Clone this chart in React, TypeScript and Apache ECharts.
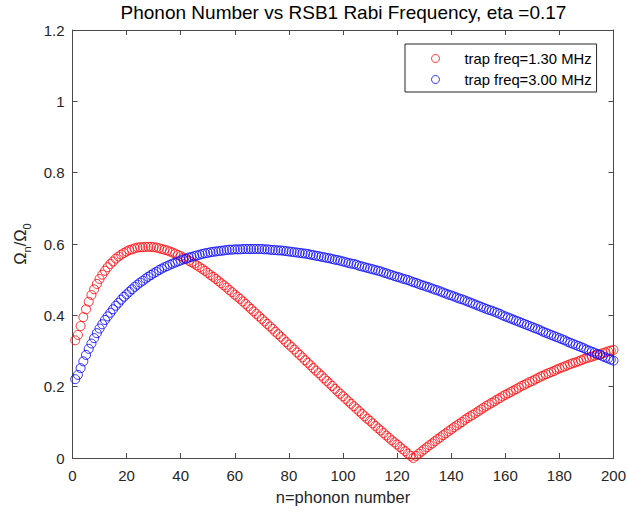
import React, { useEffect, useRef } from "react";
import * as echarts from "echarts";

const titleText = "Phonon Number vs RSB1 Rabi Frequency, eta =0.17";
const xAxisTitle = "n=phonon number";
const seriesNames = ["trap freq=1.30 MHz", "trap freq=3.00 MHz"];
const seriesColors = ["#ff0000", "#0000ff"];

const xMin = 0;
const xMax = 200;
const xStep = 20;
const yMin = 0;
const yMax = 1.2;
const yStep = 0.2;

const phononNumbers = [
  1, 2, 3, 4, 5, 6, 7, 8, 9, 10, 11, 12, 13, 14, 15, 16, 17, 18, 19, 20,
  21, 22, 23, 24, 25, 26, 27, 28, 29, 30, 31, 32, 33, 34, 35, 36, 37, 38, 39, 40,
  41, 42, 43, 44, 45, 46, 47, 48, 49, 50, 51, 52, 53, 54, 55, 56, 57, 58, 59, 60,
  61, 62, 63, 64, 65, 66, 67, 68, 69, 70, 71, 72, 73, 74, 75, 76, 77, 78, 79, 80,
  81, 82, 83, 84, 85, 86, 87, 88, 89, 90, 91, 92, 93, 94, 95, 96, 97, 98, 99, 100,
  101, 102, 103, 104, 105, 106, 107, 108, 109, 110, 111, 112, 113, 114, 115, 116, 117, 118, 119, 120,
  121, 122, 123, 124, 125, 126, 127, 128, 129, 130, 131, 132, 133, 134, 135, 136, 137, 138, 139, 140,
  141, 142, 143, 144, 145, 146, 147, 148, 149, 150, 151, 152, 153, 154, 155, 156, 157, 158, 159, 160,
  161, 162, 163, 164, 165, 166, 167, 168, 169, 170, 171, 172, 173, 174, 175, 176, 177, 178, 179, 180,
  181, 182, 183, 184, 185, 186, 187, 188, 189, 190, 191, 192, 193, 194, 195, 196, 197, 198, 199, 200,
];

// trap freq = 1.30 MHz
const redValues = [
  0.330, 0.345, 0.370, 0.395, 0.417, 0.438, 0.457, 0.473, 0.488, 0.502,
  0.514, 0.525, 0.535, 0.544, 0.551, 0.559, 0.565, 0.570, 0.575, 0.579,
  0.583, 0.585, 0.588, 0.590, 0.591, 0.591, 0.592, 0.592, 0.592, 0.591,
  0.590, 0.588, 0.586, 0.584, 0.582, 0.579, 0.576, 0.573, 0.569, 0.566,
  0.562, 0.558, 0.553, 0.549, 0.545, 0.540, 0.535, 0.530, 0.525, 0.519,
  0.513, 0.508, 0.502, 0.496, 0.490, 0.484, 0.478, 0.471, 0.465, 0.458,
  0.452, 0.446, 0.439, 0.432, 0.425, 0.418, 0.411, 0.404, 0.397, 0.390,
  0.383, 0.376, 0.369, 0.362, 0.354, 0.347, 0.340, 0.333, 0.325, 0.318,
  0.311, 0.304, 0.296, 0.289, 0.282, 0.274, 0.267, 0.260, 0.252, 0.245,
  0.238, 0.231, 0.223, 0.216, 0.209, 0.202, 0.194, 0.187, 0.180, 0.173,
  0.166, 0.159, 0.152, 0.145, 0.138, 0.131, 0.124, 0.117, 0.110, 0.104,
  0.097, 0.090, 0.083, 0.077, 0.070, 0.063, 0.057, 0.050, 0.044, 0.038,
  0.031, 0.025, 0.019, 0.012, 0.006, 0.000, 0.006, 0.012, 0.018, 0.024,
  0.030, 0.036, 0.041, 0.047, 0.053, 0.058, 0.064, 0.069, 0.075, 0.080,
  0.086, 0.091, 0.096, 0.101, 0.107, 0.112, 0.117, 0.121, 0.126, 0.131,
  0.136, 0.141, 0.146, 0.150, 0.155, 0.159, 0.164, 0.168, 0.173, 0.177,
  0.181, 0.185, 0.189, 0.193, 0.197, 0.202, 0.205, 0.209, 0.213, 0.216,
  0.220, 0.224, 0.228, 0.231, 0.235, 0.238, 0.241, 0.244, 0.248, 0.251,
  0.254, 0.257, 0.260, 0.263, 0.266, 0.268, 0.271, 0.274, 0.277, 0.280,
  0.282, 0.284, 0.287, 0.289, 0.291, 0.294, 0.296, 0.299, 0.301, 0.303,
];

// trap freq = 3.00 MHz
const blueValues = [
  0.221, 0.233, 0.252, 0.271, 0.289, 0.306, 0.321, 0.336, 0.350, 0.363,
  0.375, 0.387, 0.397, 0.407, 0.417, 0.427, 0.435, 0.444, 0.452, 0.459,
  0.466, 0.473, 0.480, 0.486, 0.492, 0.497, 0.503, 0.508, 0.513, 0.518,
  0.522, 0.527, 0.531, 0.535, 0.538, 0.542, 0.545, 0.548, 0.551, 0.554,
  0.557, 0.559, 0.562, 0.564, 0.566, 0.568, 0.570, 0.572, 0.574, 0.575,
  0.577, 0.578, 0.579, 0.580, 0.581, 0.582, 0.583, 0.584, 0.584, 0.585,
  0.585, 0.585, 0.586, 0.586, 0.586, 0.586, 0.586, 0.586, 0.586, 0.586,
  0.585, 0.585, 0.584, 0.583, 0.583, 0.582, 0.582, 0.581, 0.580, 0.579,
  0.578, 0.577, 0.576, 0.575, 0.574, 0.573, 0.572, 0.570, 0.569, 0.567,
  0.566, 0.564, 0.563, 0.561, 0.560, 0.558, 0.556, 0.555, 0.553, 0.551,
  0.549, 0.547, 0.545, 0.544, 0.542, 0.539, 0.537, 0.535, 0.533, 0.531,
  0.529, 0.527, 0.525, 0.523, 0.520, 0.518, 0.515, 0.513, 0.510, 0.508,
  0.506, 0.503, 0.501, 0.499, 0.496, 0.493, 0.491, 0.488, 0.485, 0.483,
  0.480, 0.478, 0.475, 0.472, 0.470, 0.467, 0.464, 0.461, 0.458, 0.456,
  0.453, 0.450, 0.447, 0.445, 0.442, 0.439, 0.436, 0.433, 0.430, 0.427,
  0.424, 0.421, 0.418, 0.415, 0.413, 0.410, 0.407, 0.404, 0.400, 0.397,
  0.394, 0.391, 0.388, 0.385, 0.382, 0.379, 0.376, 0.373, 0.370, 0.367,
  0.364, 0.361, 0.358, 0.354, 0.351, 0.348, 0.345, 0.342, 0.339, 0.336,
  0.333, 0.330, 0.326, 0.323, 0.320, 0.317, 0.314, 0.311, 0.308, 0.304,
  0.301, 0.298, 0.295, 0.292, 0.289, 0.285, 0.282, 0.279, 0.276, 0.273,
];

const FONT = "'Liberation Sans', Arial, Helvetica, sans-serif";
const AXIS_COLOR = "#4a4a4a";
const TEXT_COLOR = "#262626";

export default function App() {
  const ref = useRef<HTMLDivElement>(null);

  useEffect(() => {
    if (!ref.current) return;
    const chart = echarts.init(ref.current, undefined, { renderer: "svg" });

    const valueSets = [redValues, blueValues];
    const series = seriesNames.map((name, si) => ({
      name,
      type: "scatter",
      symbol: "circle",
      symbolSize: 9,
      itemStyle: {
        color: "rgba(0,0,0,0)",
        borderColor: seriesColors[si],
        borderWidth: 1,
      },
      emphasis: { disabled: true },
      data: phononNumbers.map((n, i) => [n, valueSets[si][i]]),
    }));

    const baseAxis = {
      axisLine: { show: true, onZero: false, lineStyle: { color: AXIS_COLOR, width: 1 } },
      axisTick: { show: true, inside: true, length: 5, lineStyle: { color: AXIS_COLOR, width: 1 } },
      splitLine: { show: false },
    };

    const option = {
      animation: false,
      backgroundColor: "#ffffff",
      title: {
        text: titleText,
        left: 343.5,
        top: 3,
        padding: 0,
        textAlign: "center",
        textStyle: { fontFamily: FONT, fontSize: 19, fontWeight: "normal", color: "#000000" },
      },
      legend: {
        orient: "vertical",
        left: 405,
        top: 44,
        padding: [7, 5, 5, 26],
        itemGap: 6,
        itemWidth: 48,
        itemHeight: 8,
        borderColor: TEXT_COLOR,
        borderWidth: 1,
        backgroundColor: "#ffffff",
        selectedMode: false,
        textStyle: { fontFamily: FONT, fontSize: 14.8, color: "#000000" },
        data: seriesNames.map((name, si) => ({
          name,
          icon: "circle",
          itemStyle: { color: "rgba(0,0,0,0)", borderColor: seriesColors[si], borderWidth: 1 },
        })),
      },
      grid: { left: 72.5, right: 14.5, top: 30, bottom: 58, containLabel: false },
      xAxis: [
        {
          ...baseAxis,
          type: "value",
          min: xMin,
          max: xMax,
          interval: xStep,
          position: "bottom",
          name: xAxisTitle,
          nameLocation: "middle",
          nameGap: 30,
          nameTextStyle: { fontFamily: FONT, fontSize: 16.5, color: TEXT_COLOR },
          axisLabel: { fontFamily: FONT, fontSize: 15, color: TEXT_COLOR, margin: 10 },
        },
        {
          ...baseAxis,
          type: "value",
          min: xMin,
          max: xMax,
          interval: xStep,
          position: "top",
          axisLabel: { show: false },
        },
      ],
      yAxis: [
        {
          ...baseAxis,
          type: "value",
          min: yMin,
          max: yMax,
          interval: yStep,
          position: "left",
          name: "{a|Ω}{s|n}{a|/Ω}{s|0}",
          nameLocation: "middle",
          nameRotate: 90,
          nameGap: 29,
          nameTextStyle: {
            fontFamily: FONT,
            color: TEXT_COLOR,
            rich: {
              a: { fontFamily: FONT, fontSize: 16.5, color: TEXT_COLOR, verticalAlign: "bottom", padding: [0, 0, 4, 0] },
              s: { fontFamily: FONT, fontSize: 11, color: TEXT_COLOR, verticalAlign: "bottom" },
            },
          },
          axisLabel: { fontFamily: FONT, fontSize: 15, color: TEXT_COLOR, margin: 8 },
        },
        {
          ...baseAxis,
          type: "value",
          min: yMin,
          max: yMax,
          interval: yStep,
          position: "right",
          axisLabel: { show: false },
        },
      ],
      series,
    };

    chart.setOption(option as any);
    return () => chart.dispose();
  }, []);

  return (
    <div
      ref={ref}
      style={{ position: "absolute", left: 0, top: 0, width: 629, height: 516, background: "#fff" }}
    />
  );
}
